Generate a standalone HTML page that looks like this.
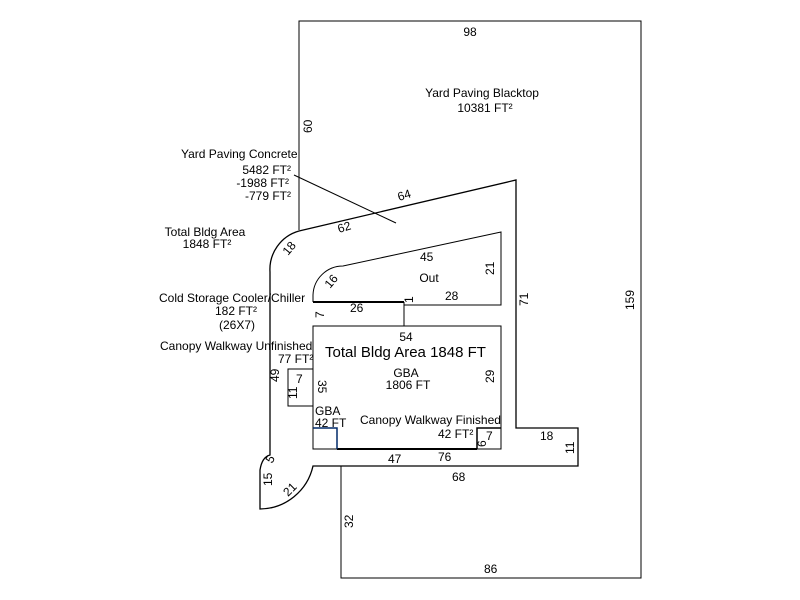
<!DOCTYPE html>
<html><head><meta charset="utf-8"><style>
html,body{margin:0;padding:0;background:#fff;width:800px;height:600px;overflow:hidden}
svg text{font-family:"Liberation Sans",Arial,sans-serif;font-size:12px;fill:#000}
</style></head><body>
<svg width="800" height="600" xmlns="http://www.w3.org/2000/svg">
<g fill="none" stroke="#000" stroke-width="1">
<polyline points="299,230 299,21 641,21 641,578 341,578 341,466"/>
<path d="M299,231 L516,180 L516,428 L578,428 L578,466 L313,466 A55,55 0 0 1 260,509 L260,470 Q262,457 270,455 L270,272 A40,40 0 0 1 299,231" stroke-width="1.3"/>
<path d="M313,302 L313,295 A30,30 0 0 1 343,266 L501,232 L501,305 L404,305"/>
<rect x="313" y="326" width="188" height="123"/>
<polyline points="404,302 404,326"/>
<line x1="313" y1="302" x2="404" y2="302" stroke-width="2"/>
<line x1="337" y1="449" x2="477" y2="449" stroke-width="2"/>
<rect x="288" y="369" width="25" height="37"/>
<polyline points="313,428 337,428 337,449" stroke="#002a6a" stroke-width="1.5"/>
<polyline points="477,449 477,428 501,428" stroke-width="1.5"/>
<line x1="294" y1="175" x2="396" y2="223"/>
</g>
<text x="470" y="36" text-anchor="middle">98</text>
<text x="482" y="97" text-anchor="middle">Yard Paving Blacktop</text>
<text x="485" y="112" text-anchor="middle">10381 FT²</text>
<text x="181" y="158">Yard Paving Concrete</text>
<text x="291" y="174" text-anchor="end">5482 FT²</text>
<text x="289" y="187" text-anchor="end">-1988 FT²</text>
<text x="291" y="200" text-anchor="end">-779 FT²</text>
<text x="205" y="236" text-anchor="middle">Total Bldg Area</text>
<text x="207" y="248" text-anchor="middle">1848 FT²</text>
<text x="159" y="302">Cold Storage Cooler/Chiller</text>
<text x="236" y="315" text-anchor="middle">182 FT²</text>
<text x="237" y="329" text-anchor="middle">(26X7)</text>
<text x="160" y="350">Canopy Walkway Unfinished</text>
<text x="278" y="363">77 FT²</text>
<text x="325" y="357" style="font-size:15px">Total Bldg Area 1848 FT</text>
<text x="406" y="341" text-anchor="middle">54</text>
<text x="406" y="377" text-anchor="middle">GBA</text>
<text x="408" y="389" text-anchor="middle">1806 FT</text>
<text x="315" y="415">GBA</text>
<text x="315" y="427">42 FT</text>
<text x="360" y="424">Canopy Walkway Finished</text>
<text x="438" y="438">42 FT²</text>
<text x="486" y="440">7</text>
<text x="296" y="383">7</text>
<text x="350" y="312">26</text>
<text x="429" y="282" text-anchor="middle">Out</text>
<text x="445" y="300">28</text>
<text x="420" y="261">45</text>
<text x="388" y="463">47</text>
<text x="438" y="461">76</text>
<text x="452" y="481">68</text>
<text x="540" y="440">18</text>
<text x="484" y="573">86</text>
<g>
<text transform="translate(312,133) rotate(-90)">60</text>
<text transform="translate(399,201) rotate(-17)">64</text>
<text transform="translate(339,233) rotate(-17)">62</text>
<text transform="translate(288,256) rotate(-50)">18</text>
<text transform="translate(330,289) rotate(-50)">16</text>
<text transform="translate(494,275) rotate(-90)">21</text>
<text transform="translate(413,303) rotate(-90)">1</text>
<text transform="translate(528,306) rotate(-90)">71</text>
<text transform="translate(634,310) rotate(-90)">159</text>
<text transform="translate(324,318) rotate(-90)">7</text>
<text transform="translate(494,383) rotate(-90)">29</text>
<text transform="translate(279,382) rotate(-90)">49</text>
<text transform="translate(297,399) rotate(-90)">11</text>
<text transform="translate(318,380) rotate(90)">35</text>
<text transform="translate(486,447) rotate(-90)">6</text>
<text transform="translate(574,454) rotate(-90)">11</text>
<text transform="translate(272,464) rotate(-60)">5</text>
<text transform="translate(272,486) rotate(-90)">15</text>
<text transform="translate(288,497) rotate(-45)">21</text>
<text transform="translate(353,528) rotate(-90)">32</text>
</g>
</svg>
</body></html>
